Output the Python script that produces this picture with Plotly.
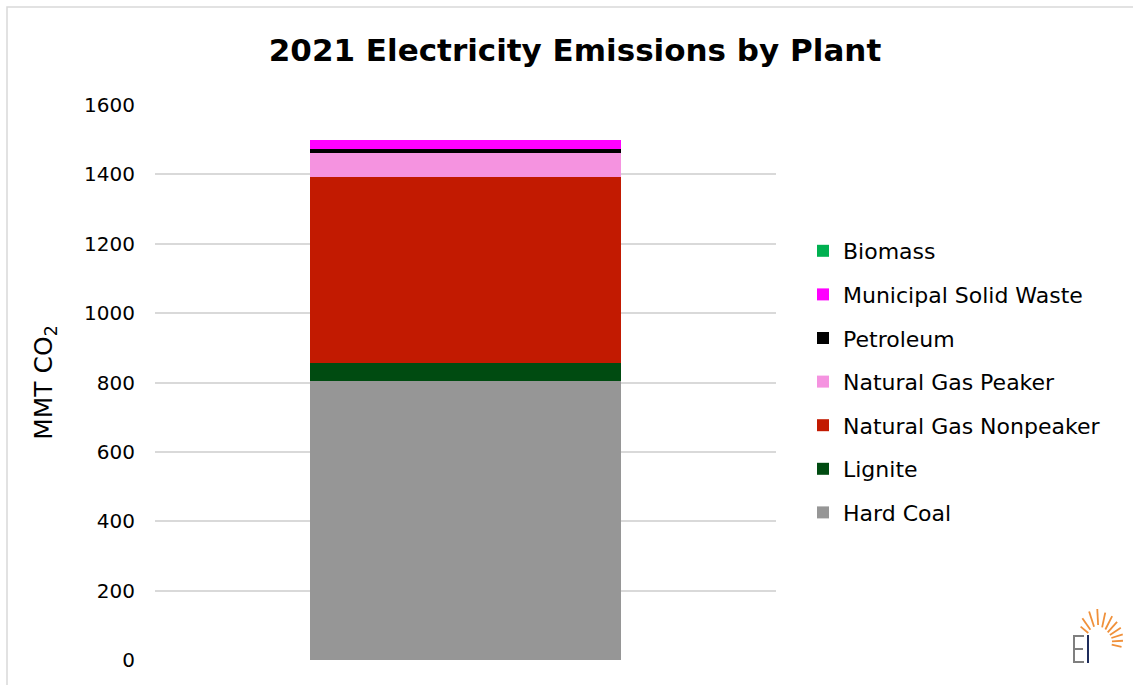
import math
import plotly.graph_objects as go

# 2021 emissions by plant type (MMT CO2), stacked bottom to top
categories = ["2021"]
plant_types = ["Hard Coal", "Lignite", "Natural Gas Nonpeaker", "Natural Gas Peaker",
               "Petroleum", "Municipal Solid Waste", "Biomass"]
emissions = [803, 53, 536, 69, 12, 26, 0]
colors = ["#969696", "#004b11", "#c21a01", "#f593e0", "#000000", "#ff00ff", "#00b050"]
y_ticks = [0, 200, 400, 600, 800, 1000, 1200, 1400, 1600]

FONT = "DejaVu Sans"
W, H = 1133, 685
L, R, T, B = 155, 776, 105, 660

fig = go.Figure()
n = len(plant_types)
for i, (name, val, col) in enumerate(zip(plant_types, emissions, colors)):
    fig.add_trace(go.Bar(
        x=categories, y=[val], name=name, marker=dict(color=col, line=dict(width=0)),
        legendgroup=name, legendrank=n - i, hoverinfo="name+y",
    ))


def px(x):
    return (x - L) / (R - L)


def py(y):
    return (B - y) / (B - T)


def seg(x0, y0, x1, y1, color, width):
    return dict(type="line", xref="paper", yref="paper",
                x0=px(x0), y0=py(y0), x1=px(x1), y1=py(y1),
                line=dict(color=color, width=width))


shapes = [
    # outer chart border
    dict(type="rect", xref="paper", yref="paper",
         x0=px(7), x1=px(1150), y0=py(700), y1=py(7),
         line=dict(color="#d9d9d9", width=1.5), layer="below"),
]

# logo lettering: a thin gray "E" and a navy "I"
E_GRAY = "#7f7f7f"
shapes += [
    seg(1074, 635, 1074, 663, E_GRAY, 2),
    seg(1073, 636, 1084, 636, E_GRAY, 2),
    seg(1073, 649, 1083, 649, E_GRAY, 2),
    seg(1073, 662, 1084, 662, E_GRAY, 2),
    seg(1088, 635, 1088, 663, "#1f2d5c", 2),
]

# sunburst rays of the logo
cx, cy = 1099, 642
rays = [(140, 14, 24), (125, 15, 29), (108, 16, 32), (93, 17, 33), (78, 15, 30),
        (63, 14, 29), (48, 13, 27), (33, 13, 26), (18, 13, 25), (3, 13, 24), (-12, 13, 23)]
for ang, r0, r1 in rays:
    a = math.radians(ang)
    shapes.append(seg(cx + r0 * math.cos(a), cy - r0 * math.sin(a),
                      cx + r1 * math.cos(a), cy - r1 * math.sin(a), "#f0903a", 1.8))

fig.update_layout(
    width=W, height=H,
    barmode="stack", bargap=0.5,
    paper_bgcolor="white", plot_bgcolor="white",
    margin=dict(l=L, r=W - R, t=T, b=H - B, autoexpand=False),
    title=dict(text="<b>2021 Electricity Emissions by Plant</b>", x=575 / W,
               xanchor="center", y=1 - 50 / H, yanchor="middle",
               font=dict(family=FONT, size=31, color="#000000")),
    xaxis=dict(showticklabels=False, showgrid=False, zeroline=False, showline=False),
    yaxis=dict(
        range=[0, 1600], tickvals=y_ticks, ticktext=[str(v) for v in y_ticks],
        showgrid=True, gridcolor="#d9d9d9", gridwidth=1.5, zeroline=False, showline=False,
        tickfont=dict(family=FONT, size=20, color="#000000"), ticklabelstandoff=19,
        title=dict(text="MMT CO<sub>2</sub>", font=dict(family=FONT, size=25, color="#000000"),
                   standoff=24),
    ),
    legend=dict(
        traceorder="grouped", tracegroupgap=12,
        x=px(803), xanchor="left", y=py(230), yanchor="top",
        font=dict(family=FONT, size=22, color="#000000"),
        itemwidth=30, bgcolor="rgba(0,0,0,0)",
    ),
    shapes=shapes,
)

fig.write_html("out.html")
